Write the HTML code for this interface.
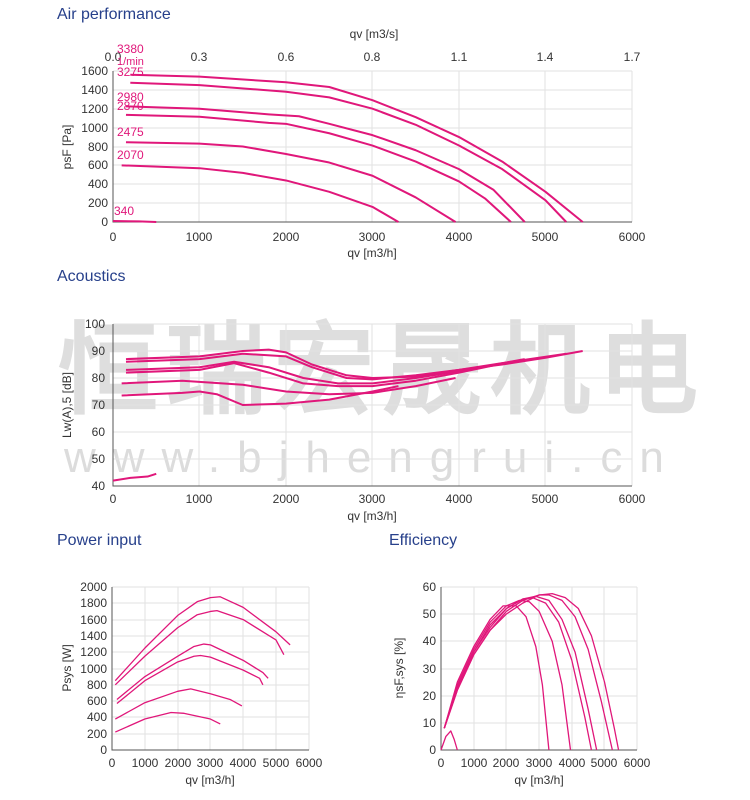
<!DOCTYPE html>
<html><head><meta charset="utf-8"><style>
body{margin:0;background:#fff;width:750px;height:800px;overflow:hidden}
svg{display:block}
text{font-family:"Liberation Sans",sans-serif}
.t{font-size:16px;fill:#27408b}
.k{font-size:12px;fill:#333}
.g line{stroke:#e2e2e2;stroke-width:1}
.c polyline{fill:none;stroke:#e0177a;stroke-width:2;vector-effect:non-scaling-stroke;stroke-linejoin:round}
.e polyline{fill:none;stroke:#e0177a;stroke-width:1.3;vector-effect:non-scaling-stroke;stroke-linejoin:round}
.ax{stroke:#555;stroke-width:1;fill:none}
.lb{font-size:12px;fill:#e0177a}
</style></head><body>
<svg width="750" height="800" viewBox="0 0 750 800">
<!-- watermark -->
<text x="58" y="405" font-family="'Noto Sans CJK SC',sans-serif" font-size="100" font-weight="bold" fill="#dedede" letter-spacing="8">恒瑞宏晟机电</text>
<text x="64" y="472" font-size="44" fill="#dcdcdc" letter-spacing="17">www.bjhengrui.cn</text>

<!-- Air performance -->
<text class="t" x="57" y="19">Air performance</text>
<text class="k" x="374" y="38" text-anchor="middle" font-size="13">qv [m3/s]</text>
<g class="k" text-anchor="middle">
<text x="113" y="61">0.0</text><text x="199" y="61">0.3</text><text x="286" y="61">0.6</text><text x="372" y="61">0.8</text><text x="459" y="61">1.1</text><text x="545" y="61">1.4</text><text x="632" y="61">1.7</text>
</g>
<g class="g">
<line x1="199" y1="71" x2="199" y2="222"/><line x1="286" y1="71" x2="286" y2="222"/><line x1="372" y1="71" x2="372" y2="222"/><line x1="459" y1="71" x2="459" y2="222"/><line x1="545" y1="71" x2="545" y2="222"/><line x1="632" y1="71" x2="632" y2="222"/>
<line x1="113" y1="71" x2="632" y2="71"/><line x1="113" y1="90" x2="632" y2="90"/><line x1="113" y1="109" x2="632" y2="109"/><line x1="113" y1="128" x2="632" y2="128"/><line x1="113" y1="147" x2="632" y2="147"/><line x1="113" y1="165" x2="632" y2="165"/><line x1="113" y1="184" x2="632" y2="184"/><line x1="113" y1="203" x2="632" y2="203"/>
</g>
<path class="ax" d="M113,71V222H632"/>
<g class="k" text-anchor="end">
<text x="108" y="75">1600</text><text x="108" y="94">1400</text><text x="108" y="113">1200</text><text x="108" y="132">1000</text><text x="108" y="151">800</text><text x="108" y="169">600</text><text x="108" y="188">400</text><text x="108" y="207">200</text><text x="108" y="226">0</text>
</g>
<g class="k" text-anchor="middle">
<text x="113" y="241">0</text><text x="199" y="241">1000</text><text x="286" y="241">2000</text><text x="372" y="241">3000</text><text x="459" y="241">4000</text><text x="545" y="241">5000</text><text x="632" y="241">6000</text>
</g>
<text class="k" x="372" y="257" text-anchor="middle" font-size="13">qv [m3/h]</text>
<text class="k" font-size="13" transform="translate(71,147) rotate(-90)" text-anchor="middle">psF [Pa]</text>
<g class="c" transform="translate(113,222) scale(0.0865,-0.0944)">
<polyline points="200,1560 1000,1540 2000,1480 2500,1430 3000,1290 3500,1110 4000,900 4500,640 5000,320 5430,0"/>
<polyline points="200,1475 1000,1450 2000,1380 2500,1320 3000,1200 3500,1030 4000,810 4500,560 5000,230 5240,0"/>
<polyline points="150,1225 1000,1200 1800,1140 2150,1120 2500,1040 3000,920 3500,760 4000,560 4400,340 4760,0"/>
<polyline points="150,1135 1000,1115 1800,1050 2000,1040 2500,940 3000,810 3500,640 4000,430 4300,250 4600,0"/>
<polyline points="150,845 1000,830 1500,800 2000,720 2500,630 3000,490 3500,260 3960,0"/>
<polyline points="100,600 1000,570 1500,520 2000,440 2500,320 3000,160 3300,0"/>
<polyline points="0,10 300,6 500,0"/>
</g>
<g class="lb">
<text x="117" y="53">3380</text><text x="117" y="65" font-size="11">1/min</text><text x="117" y="76">3275</text>
<text x="117" y="101">2980</text><text x="117" y="110">2870</text><text x="117" y="136">2475</text><text x="117" y="159">2070</text><text x="114" y="215">340</text>
</g>

<!-- Acoustics -->
<text class="t" x="57" y="281">Acoustics</text>
<g class="g">
<line x1="199" y1="324" x2="199" y2="486"/><line x1="286" y1="324" x2="286" y2="486"/><line x1="372" y1="324" x2="372" y2="486"/><line x1="459" y1="324" x2="459" y2="486"/><line x1="545" y1="324" x2="545" y2="486"/><line x1="632" y1="324" x2="632" y2="486"/>
<line x1="113" y1="324" x2="632" y2="324"/><line x1="113" y1="351" x2="632" y2="351"/><line x1="113" y1="378" x2="632" y2="378"/><line x1="113" y1="405" x2="632" y2="405"/><line x1="113" y1="432" x2="632" y2="432"/><line x1="113" y1="459" x2="632" y2="459"/>
</g>
<path class="ax" d="M113,324V486H632"/>
<g class="k" text-anchor="end">
<text x="105" y="328">100</text><text x="105" y="355">90</text><text x="105" y="382">80</text><text x="105" y="409">70</text><text x="105" y="436">60</text><text x="105" y="463">50</text><text x="105" y="490">40</text>
</g>
<g class="k" text-anchor="middle">
<text x="113" y="503">0</text><text x="199" y="503">1000</text><text x="286" y="503">2000</text><text x="372" y="503">3000</text><text x="459" y="503">4000</text><text x="545" y="503">5000</text><text x="632" y="503">6000</text>
</g>
<text class="k" x="372" y="520" text-anchor="middle" font-size="13">qv [m3/h]</text>
<text class="k" font-size="13" transform="translate(71,405) rotate(-90)" text-anchor="middle">Lw(A),5 [dB]</text>
<g class="c" transform="translate(113,594) scale(0.0865,-2.7)">
<polyline points="150,87 1000,88 1500,90 1800,90.5 2000,89.5 2300,85 2700,81 3000,80 3500,80.5 4000,83 4500,85 5000,87.5 5430,90"/>
<polyline points="150,86 1000,87 1500,89 2000,88 2300,84 2700,80 3000,79.5 3500,81 4000,83 4500,85.5 5240,89"/>
<polyline points="150,83 1000,84 1400,86 1800,84 2200,80 2600,78 3000,78 3500,80 4000,82.5 4760,87"/>
<polyline points="150,82 1000,83 1400,85.5 1800,82 2200,78 2600,77 3000,77 3500,79 4000,82 4600,86"/>
<polyline points="100,78 800,79 1500,77.5 2000,75 2500,74 3000,74.5 3500,77 3960,80"/>
<polyline points="100,73.5 800,74.5 1000,75 1200,74 1500,70 2000,70.5 2500,72 3000,75 3300,77"/>
<polyline points="0,42 200,43 400,43.5 500,44.5"/>
</g>

<!-- Power input -->
<text class="t" x="57" y="545">Power input</text>
<g class="g">
<line x1="145" y1="587" x2="145" y2="750"/><line x1="178" y1="587" x2="178" y2="750"/><line x1="210" y1="587" x2="210" y2="750"/><line x1="243" y1="587" x2="243" y2="750"/><line x1="276" y1="587" x2="276" y2="750"/><line x1="309" y1="587" x2="309" y2="750"/>
<line x1="112" y1="587" x2="309" y2="587"/><line x1="112" y1="603" x2="309" y2="603"/><line x1="112" y1="620" x2="309" y2="620"/><line x1="112" y1="636" x2="309" y2="636"/><line x1="112" y1="652" x2="309" y2="652"/><line x1="112" y1="669" x2="309" y2="669"/><line x1="112" y1="685" x2="309" y2="685"/><line x1="112" y1="701" x2="309" y2="701"/><line x1="112" y1="717" x2="309" y2="717"/><line x1="112" y1="734" x2="309" y2="734"/>
</g>
<path class="ax" d="M112,587V750H309"/>
<g class="k" text-anchor="end" font-size="11.5">
<text x="107" y="591">2000</text><text x="107" y="607">1800</text><text x="107" y="624">1600</text><text x="107" y="640">1400</text><text x="107" y="656">1200</text><text x="107" y="673">1000</text><text x="107" y="689">800</text><text x="107" y="705">600</text><text x="107" y="721">400</text><text x="107" y="738">200</text><text x="107" y="754">0</text>
</g>
<g class="k" text-anchor="middle" font-size="11.5">
<text x="112" y="767">0</text><text x="145" y="767">1000</text><text x="178" y="767">2000</text><text x="210" y="767">3000</text><text x="243" y="767">4000</text><text x="276" y="767">5000</text><text x="309" y="767">6000</text>
</g>
<text class="k" x="210" y="784" text-anchor="middle" font-size="13">qv [m3/h]</text>
<text class="k" font-size="13" transform="translate(71,668) rotate(-90)" text-anchor="middle">Psys [W]</text>
<g class="e" transform="translate(112,750) scale(0.0328,-0.0815)">
<polyline points="100,850 1000,1250 2000,1650 2600,1820 3000,1870 3300,1880 4000,1750 5000,1450 5430,1290"/>
<polyline points="100,800 1000,1150 2000,1500 2600,1660 3000,1700 3200,1710 4000,1600 5000,1350 5240,1170"/>
<polyline points="150,620 1000,900 2000,1150 2500,1270 2800,1300 3000,1290 4000,1100 4600,950 4760,880"/>
<polyline points="150,570 1000,850 2000,1080 2500,1150 2700,1160 3000,1140 4000,980 4500,880 4600,800"/>
<polyline points="100,380 1000,580 2000,720 2400,750 3000,690 3600,620 3960,540"/>
<polyline points="100,220 1000,380 1800,460 2200,450 3000,380 3300,320"/>
</g>

<!-- Efficiency -->
<text class="t" x="389" y="545">Efficiency</text>
<g class="g">
<line x1="474" y1="587" x2="474" y2="750"/><line x1="506" y1="587" x2="506" y2="750"/><line x1="539" y1="587" x2="539" y2="750"/><line x1="572" y1="587" x2="572" y2="750"/><line x1="604" y1="587" x2="604" y2="750"/><line x1="637" y1="587" x2="637" y2="750"/>
<line x1="441" y1="587" x2="637" y2="587"/><line x1="441" y1="614" x2="637" y2="614"/><line x1="441" y1="641" x2="637" y2="641"/><line x1="441" y1="669" x2="637" y2="669"/><line x1="441" y1="696" x2="637" y2="696"/><line x1="441" y1="723" x2="637" y2="723"/>
</g>
<path class="ax" d="M441,587V750H637"/>
<g class="k" text-anchor="end">
<text x="436" y="591">60</text><text x="436" y="618">50</text><text x="436" y="645">40</text><text x="436" y="673">30</text><text x="436" y="700">20</text><text x="436" y="727">10</text><text x="436" y="754">0</text>
</g>
<g class="k" text-anchor="middle" font-size="11.5">
<text x="441" y="767">0</text><text x="474" y="767">1000</text><text x="506" y="767">2000</text><text x="539" y="767">3000</text><text x="572" y="767">4000</text><text x="604" y="767">5000</text><text x="637" y="767">6000</text>
</g>
<text class="k" x="539" y="784" text-anchor="middle" font-size="13">qv [m3/h]</text>
<text class="k" font-size="13" transform="translate(403,668) rotate(-90)" text-anchor="middle">ηsF,sys [%]</text>
<g class="e" transform="translate(441,750) scale(0.0327,-2.72)">
<polyline points="100,8 500,22 1000,35 1500,44 2000,50 2500,54 3000,57 3400,57.5 3800,56 4200,52 4600,42 5000,25 5300,8 5430,0"/>
<polyline points="100,8 500,22 1000,35 1500,44 2000,51 2500,55 3000,57 3300,57 3700,55 4100,49 4500,37 4900,18 5240,0"/>
<polyline points="100,8 500,23 1000,36 1500,45 2000,52 2500,55.5 2900,56.5 3300,55 3700,48 4100,36 4500,15 4760,0"/>
<polyline points="100,8 500,23 1000,36 1500,46 2000,52 2500,55.5 2800,56 3200,54 3600,47 4000,33 4400,12 4600,0"/>
<polyline points="100,8 500,24 1000,37 1500,47 2000,53 2400,55 2700,54.5 3000,51 3400,40 3700,24 3960,0"/>
<polyline points="100,8 500,25 1000,38 1500,48 1900,53 2300,53 2600,49 2900,38 3100,24 3300,0"/>
<polyline points="0,0 150,5 300,7 400,4 500,0"/>
</g>
</svg>
</body></html>
